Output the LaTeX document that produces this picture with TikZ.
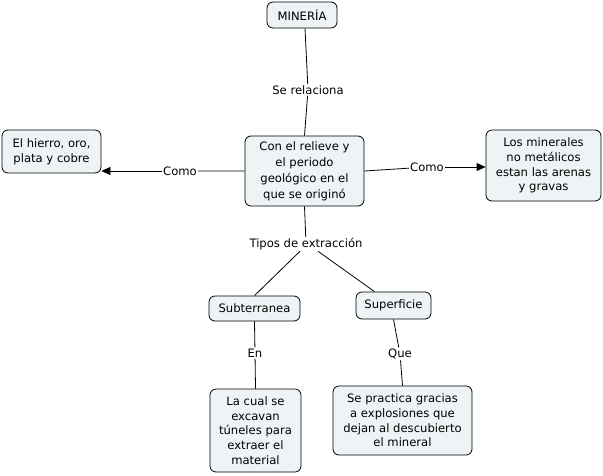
\documentclass[tikz,border=0pt]{standalone}
\usepackage{fontspec}
\setmainfont{DejaVu Sans}
\usetikzlibrary{arrows.meta, positioning}
\definecolor{boxfill}{HTML}{EEF3F5}

\begin{document}
\begin{tikzpicture}[x=1pt, y=-1pt, line width=0.8pt,
			font=\fontsize{11.6}{14.6}\selectfont,
			concept/.style = {
				draw, fill=boxfill, rounded corners=6pt, align=center,
				inner sep=0pt
			},
			linkword/.style = {
				fill=white, inner sep=1pt
			}]
			\useasboundingbox (0,0) rectangle (603,475);
			\node (mineria) [concept, minimum width=70pt, minimum height=26pt] at (302,15) {MINERÍA};
			\node (relieve) [concept, minimum width=119pt, minimum height=70pt,
			font=\fontsize{11.6}{16}\selectfont] at (304.5,171) {Con el relieve y\\el periodo\\geológico en el\\que se originó};
			\node (hierro) [concept, minimum width=99pt, minimum height=43pt] at (51.5,151.5) {El hierro, oro,\\plata y cobre};
			\node (nometal) [concept, minimum width=115pt, minimum height=71pt] at (543.5,165.5) {Los minerales\\no metálicos\\estan las arenas\\y gravas};
			\node (subt) [concept, minimum width=91pt, minimum height=25pt] at (254.5,308.5) {Subterranea};
			\node (superf) [concept, minimum width=75pt, minimum height=27pt] at (393.5,305.5) {Superficie};
			\node (tuneles) [concept, minimum width=91pt, minimum height=83pt] at (255.5,430.5) {La cual se\\excavan\\túneles para\\extraer el\\material};
			\node (explos) [concept, minimum width=139pt, minimum height=69pt] at (402.5,420.5) {Se practica gracias\\a explosiones que\\dejan al descubierto\\el mineral};
			% palabras de enlace
			\node (relaciona) [linkword] at (308,90) {Se relaciona};
			\node (como1) [linkword] at (180,171) {Como};
			\node (como2) [linkword] at (427,167) {Como};
			\node (tipos) [linkword] at (306,244) {Tipos de extracción};
			\node (en) [linkword] at (255,353) {En};
			\node (que) [linkword] at (400,354) {Que};
			\path [draw]
			([xshift=3pt]mineria.south) -- (relaciona) -- (relieve.north)
			(relieve.west) -- (como1)
			(relieve.east) -- (como2)
			(relieve.south) -- (tipos)
			([xshift=-6pt]tipos.south) -- (subt.north)
			([xshift=12pt]tipos.south) -- ([xshift=-19pt]superf.north)
			(subt.south) -- (en) -- (tuneles.north)
			(superf.south) -- (que) -- (explos.north);
			\draw [-{Triangle[length=9pt,width=8pt]}] (como1) -- (hierro.east |- como1);
			\draw [-{Triangle[length=9pt,width=8pt]}] (como2) -- (nometal.west |- como2);
		\end{tikzpicture}
\end{document}
